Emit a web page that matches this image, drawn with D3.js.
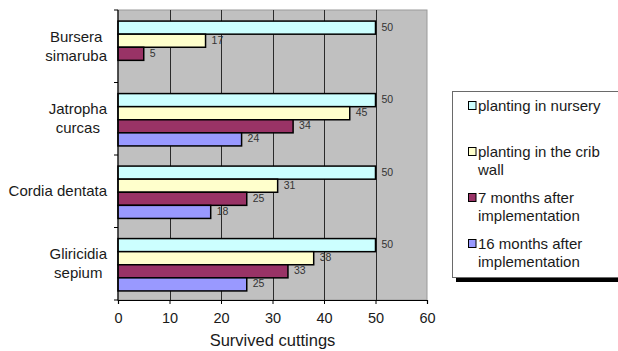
<!DOCTYPE html>
<html>
<head>
<meta charset="utf-8">
<script src="https://cdn.jsdelivr.net/npm/d3@7"></script>
<style>
  html, body { margin: 0; padding: 0; background: #fff; }
  svg { display: block; font-family: "Liberation Sans", Arial, sans-serif; }
</style>
</head>
<body>
<svg id="chart" width="618" height="351"></svg>
<script>
// ---- data ----
const categories = ["Bursera simaruba", "Jatropha curcas", "Cordia dentata", "Gliricidia sepium"];
const categoryLines = [["Bursera", "simaruba"], ["Jatropha", "curcas"], ["Cordia dentata"], ["Gliricidia", "sepium"]];
const seriesNames = ["planting in nursery", "planting in the crib wall", "7 months after implementation", "16 months after implementation"];
const legendLines = [["planting in nursery"], ["planting in the crib", "wall"], ["7 months after", "implementation"], ["16 months after", "implementation"]];
const nursery   = [50, 50, 50, 50];
const cribWall  = [17, 45, 31, 38];
const months7   = [5, 34, 25, 33];
const months16  = [null, 24, 18, 25];
const xTicks = [0, 10, 20, 30, 40, 50, 60];
const seriesColors = ["#ccffff", "#ffffcc", "#993366", "#9999ff"];

const seriesValues = [nursery, cribWall, months7, months16];

// ---- layout ----
const svg = d3.select("#chart");
const plot = { left: 118, right: 427, top: 10, bottom: 300 };

const x = d3.scaleLinear().domain([0, 60]).range([plot.left, plot.right]);
const y0 = d3.scaleBand().domain(categories).range([plot.top, plot.bottom]).padding(0);
const y1 = d3.scaleBand().domain(seriesNames).range([0, y0.bandwidth()])
  .paddingInner(0).paddingOuter(0.77).align(0.55);

// plot background
svg.append("rect")
  .attr("x", plot.left).attr("y", plot.top)
  .attr("width", plot.right - plot.left).attr("height", plot.bottom - plot.top)
  .attr("fill", "#c0c0c0").attr("stroke", "#9a9a9a").attr("stroke-width", 1);

// vertical gridlines
svg.append("g").selectAll("line")
  .data(xTicks.filter(t => t > 0 && t < 60))
  .join("line")
  .attr("x1", d => Math.round(x(d)) + 0.5).attr("x2", d => Math.round(x(d)) + 0.5)
  .attr("y1", plot.top).attr("y2", plot.bottom)
  .attr("stroke", "#2a2a2a").attr("stroke-width", 1);

// bars
const rows = [];
categories.forEach((c, ci) => {
  seriesNames.forEach((s, si) => {
    const v = seriesValues[si][ci];
    if (v != null) rows.push({ c, s, si, v });
  });
});

const barG = svg.append("g");
barG.selectAll("rect")
  .data(rows)
  .join("rect")
  .attr("x", x(0))
  .attr("y", d => y0(d.c) + y1(d.s))
  .attr("width", d => x(d.v) - x(0))
  .attr("height", y1.bandwidth())
  .attr("fill", d => seriesColors[d.si])
  .attr("stroke", "#000").attr("stroke-width", 1.5);

// value labels
barG.selectAll("text")
  .data(rows)
  .join("text")
  .attr("x", d => x(d.v) + 6)
  .attr("y", d => y0(d.c) + y1(d.s) + y1.bandwidth() / 2 + 3)
  .attr("font-size", 10.5)
  .attr("fill", "#333")
  .text(d => d.v);

// left axis
const yAxisG = svg.append("g");
yAxisG.append("line")
  .attr("x1", plot.left).attr("x2", plot.left)
  .attr("y1", plot.top).attr("y2", plot.bottom + 0.5)
  .attr("stroke", "#000").attr("stroke-width", 1.2);
const boundaries = categories.map(c => y0(c)).concat([plot.bottom]);
yAxisG.selectAll("line.tick")
  .data(boundaries)
  .join("line").attr("class", "tick")
  .attr("x1", plot.left - 4).attr("x2", plot.left)
  .attr("y1", d => d).attr("y2", d => d)
  .attr("stroke", "#000").attr("stroke-width", 1);

// category labels (block right aligned, lines centered)
const labelRight = 107;
categories.forEach((c, i) => {
  const lines = categoryLines[i];
  const lh = 19;
  const cy = y0(c) + y0.bandwidth() / 2;
  const t = svg.append("text")
    .attr("font-size", 15).attr("fill", "#1a1a1a")
    .attr("text-anchor", "middle");
  const spans = lines.map((ln, li) =>
    t.append("tspan")
      .attr("y", cy + 5 + (li - (lines.length - 1) / 2) * lh)
      .text(ln));
  let maxW = 0;
  spans.forEach(sp => { maxW = Math.max(maxW, sp.node().getComputedTextLength()); });
  spans.forEach(sp => sp.attr("x", labelRight - maxW / 2));
});

// bottom axis
const xAxis = d3.axisBottom(x).tickValues(xTicks).tickSize(4).tickPadding(9).tickFormat(d3.format("d"));
const xAxisG = svg.append("g")
  .attr("transform", `translate(0,${plot.bottom})`)
  .call(xAxis);
xAxisG.select(".domain").attr("stroke", "#000").attr("stroke-width", 1.2);
xAxisG.selectAll(".tick line").attr("stroke", "#000");
xAxisG.selectAll(".tick text")
  .attr("font-size", 14.5).attr("fill", "#1a1a1a")
  .attr("font-family", "'Liberation Sans', Arial, sans-serif");

// axis title
svg.append("text")
  .attr("x", (plot.left + plot.right) / 2)
  .attr("y", 346)
  .attr("text-anchor", "middle")
  .attr("font-size", 16.5).attr("fill", "#1a1a1a")
  .text("Survived cuttings");

// legend
const lg = { x: 452, y: 91, w: 180, h: 186 };
svg.append("rect")
  .attr("x", lg.x + 4).attr("y", lg.y + 5)
  .attr("width", lg.w).attr("height", lg.h)
  .attr("fill", "#000");
svg.append("rect")
  .attr("x", lg.x + 0.5).attr("y", lg.y + 0.5)
  .attr("width", lg.w).attr("height", lg.h)
  .attr("fill", "#fff").attr("stroke", "#6a6a6a").attr("stroke-width", 1);

const legendBase = [111, 157, 203, 249];
const legendG = svg.append("g");
seriesNames.forEach((s, i) => {
  legendG.append("rect")
    .attr("x", 468.5).attr("y", legendBase[i] - 9.5)
    .attr("width", 7.5).attr("height", 8)
    .attr("fill", seriesColors[i]).attr("stroke", "#000").attr("stroke-width", 1);
  const t = legendG.append("text").attr("font-size", 15).attr("fill", "#1a1a1a");
  legendLines[i].forEach((ln, li) => {
    t.append("tspan").attr("x", 478).attr("y", legendBase[i] + li * 17.5).text(ln);
  });
});
</script>
</body>
</html>
